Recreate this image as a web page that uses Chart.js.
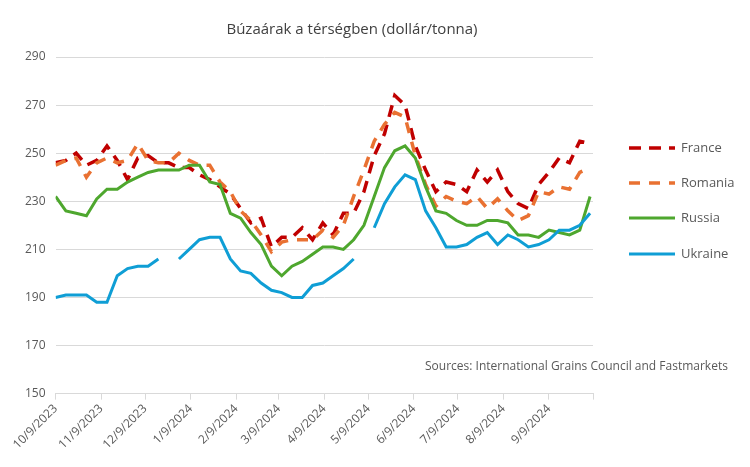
<!DOCTYPE html>
<html>
<head>
<meta charset="utf-8">
<script src="https://cdn.jsdelivr.net/npm/chart.js@4.4.1/dist/chart.umd.min.js"></script>
<style>
  html, body { margin: 0; padding: 0; background: #ffffff; }
  #wrap { width: 750px; height: 467px; }
</style>
</head>
<body>
<div id="wrap"><canvas id="wheatChart" width="750" height="467"></canvas></div>
<script>
// weekly observations (dollar/tonne)
const weekDates = [
  '2023-10-09', '2023-10-16', '2023-10-23', '2023-10-30', '2023-11-06', '2023-11-13', '2023-11-20', '2023-11-27',
  '2023-12-04', '2023-12-11', '2023-12-18', '2023-12-25', '2024-01-01', '2024-01-08', '2024-01-15', '2024-01-22',
  '2024-01-29', '2024-02-05', '2024-02-12', '2024-02-19', '2024-02-26', '2024-03-04', '2024-03-11', '2024-03-18',
  '2024-03-25', '2024-04-01', '2024-04-08', '2024-04-15', '2024-04-22', '2024-04-29', '2024-05-06', '2024-05-13',
  '2024-05-20', '2024-05-27', '2024-06-03', '2024-06-10', '2024-06-17', '2024-06-24', '2024-07-01', '2024-07-08',
  '2024-07-15', '2024-07-22', '2024-07-29', '2024-08-05', '2024-08-12', '2024-08-19', '2024-08-26', '2024-09-02',
  '2024-09-09', '2024-09-16', '2024-09-23', '2024-09-30', '2024-10-07'
];

const france = [
  246, 247, 250, 245, 247, 253, 247, 239, 248, 249, 246, 246, 244, 244, 241, 239,
  236, 233, 227, 221, 223, 211, 215, 215, 219, 214, 221, 216, 225, 225, 234, 249,
  258, 274, 270, 253, 243, 234, 238, 237, 234, 243, 238, 243, 234, 229, 227, 237,
  242, 248, 246, 255, 254
];
const romania = [
  245, 247, 248, 240, 246, 248, 246, 247, 254, 247, 246, 246, 250, 247, 245, 245,
  238, 234, 226, 222, 216, 209, 213, 214, 214, 214, 218, 215, 220, 232, 243, 255,
  262, 267, 265, 249, 237, 228, 232, 230, 229, 232, 227, 231, 226, 222, 224, 234,
  233, 236, 235, 242, 244
];
const russia = [
  232, 226, 225, 224, 231, 235, 235, 238, 240, 242, 243, 243, 243, 245, 245, 238,
  237, 225, 223, 217, 212, 203, 199, 203, 205, 208, 211, 211, 210, 214, 220, 232,
  244, 251, 253, 248, 236, 226, 225, 222, 220, 220, 222, 222, 221, 216, 216, 215,
  218, 217, 216, 218, 232
];
const ukraine = [
  190, 191, 191, 191, 188, 188, 199, 202, 203, 203, 206, null, 206, 210, 214, 215,
  215, 206, 201, 200, 196, 193, 192, 190, 190, 195, 196, 199, 202, 206, null, 219,
  229, 236, 241, 239, 226, 219, 211, 211, 212, 215, 217, 212, 216, 214, 211, 212,
  214, 218, 218, 220, 225
];

const tickDates = [
  '2023-10-09', '2023-11-09', '2023-12-09', '2024-01-09', '2024-02-09', '2024-03-09', '2024-04-09',
  '2024-05-09', '2024-06-09', '2024-07-09', '2024-08-09', '2024-09-09', '2024-10-09'
];
const tickLabels = [
  '10/9/2023', '11/9/2023', '12/9/2023', '1/9/2024', '2/9/2024', '3/9/2024', '4/9/2024',
  '5/9/2024', '6/9/2024', '7/9/2024', '8/9/2024', '9/9/2024', ''
];

const FONT = "'Open Sans', 'Noto Sans', sans-serif";
const DAY = 86400000;
const startTime = Date.parse(weekDates[0]);

function dayOf(d) {
  return Math.round((Date.parse(d) - startTime) / DAY);
}
function toPoints(values) {
  return weekDates.map((d, i) => ({ x: dayOf(d), y: values[i] }));
}
const tickDays = tickDates.map(dayOf);

// legend + source note drawn next to the plot
const extrasPlugin = {
  id: 'extras',
  afterDraw(chart) {
    const c = chart.ctx;
    const rows = [148, 183, 218, 254];
    c.save();
    c.font = '13px ' + FONT;
    c.textBaseline = 'middle';
    c.textAlign = 'left';
    chart.data.datasets.forEach((ds, i) => {
      c.strokeStyle = ds.borderColor;
      c.lineWidth = ds.borderWidth;
      c.setLineDash(ds.borderDash || []);
      c.beginPath();
      c.moveTo(629, rows[i]);
      c.lineTo(675, rows[i]);
      c.stroke();
      c.setLineDash([]);
      c.fillStyle = '#595959';
      c.fillText(ds.label, 681, rows[i]);
    });
    c.font = '12px ' + FONT;
    c.fillStyle = '#595959';
    c.fillText('Sources: International Grains Council and Fastmarkets', 425, 367);
    c.restore();
  }
};

const chart = new Chart(document.getElementById('wheatChart').getContext('2d'), {
  type: 'line',
  data: {
    datasets: [
      {
        label: 'France',
        data: toPoints(france),
        borderColor: '#C00000',
        borderWidth: 3.5,
        borderDash: [12, 8],
        pointRadius: 0,
        order: 4
      },
      {
        label: 'Romania',
        data: toPoints(romania),
        borderColor: '#E97132',
        borderWidth: 3.5,
        borderDash: [11, 9],
        pointRadius: 0,
        order: 3
      },
      {
        label: 'Russia',
        data: toPoints(russia),
        borderColor: '#4EA72E',
        borderWidth: 3,
        pointRadius: 0,
        order: 2
      },
      {
        label: 'Ukraine',
        data: toPoints(ukraine),
        borderColor: '#0F9ED5',
        borderWidth: 3,
        pointRadius: 0,
        order: 1
      }
    ]
  },
  options: {
    responsive: false,
    animation: false,
    devicePixelRatio: 1,
    spanGaps: false,
    layout: { padding: { left: 15, right: 61, top: 0, bottom: 13 } },
    scales: {
      x: {
        type: 'linear',
        min: tickDays[0],
        max: tickDays[tickDays.length - 1],
        afterBuildTicks: (axis) => { axis.ticks = tickDays.map(v => ({ value: v })); },
        ticks: {
          autoSkip: false,
          minRotation: 45,
          maxRotation: 45,
          padding: 2,
          color: '#595959',
          font: { family: FONT, size: 12 },
          callback: (v, i) => tickLabels[i]
        },
        grid: { drawOnChartArea: false, drawTicks: true, tickLength: 6, color: '#d9d9d9' },
        border: { color: '#d9d9d9' }
      },
      y: {
        min: 150,
        max: 290,
        ticks: {
          stepSize: 20,
          padding: 10,
          color: '#595959',
          font: { family: FONT, size: 12 }
        },
        grid: { color: '#d9d9d9', drawTicks: false },
        border: { display: false }
      },
      yRight: {
        position: 'right',
        display: true,
        grid: { display: false },
        border: { display: false },
        ticks: { display: false },
        afterFit: (scale) => { scale.width = 96; }
      }
    },
    plugins: {
      legend: { display: false },
      tooltip: { enabled: false },
      title: {
        display: true,
        text: 'Búzaárak a térségben (dollár/tonna)',
        color: '#404040',
        font: { family: FONT, size: 15, weight: 'normal' },
        padding: { top: 21, bottom: 18 }
      }
    }
  },
  plugins: [extrasPlugin]
});
</script>
</body>
</html>
